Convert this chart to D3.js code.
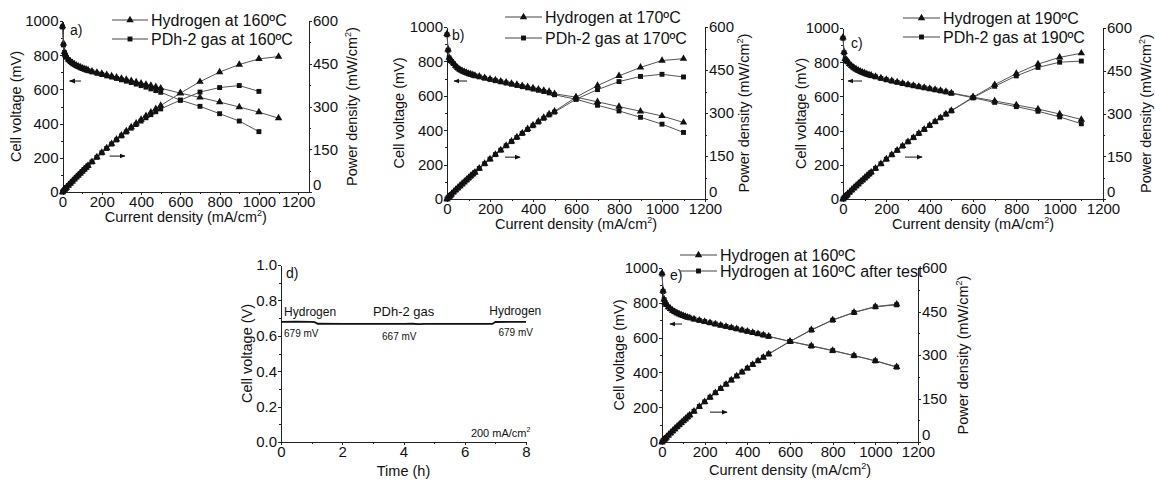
<!DOCTYPE html>
<html>
<head>
<meta charset="utf-8">
<script src="https://cdn.jsdelivr.net/npm/d3@7"></script>
<style>
body { margin: 0; background: #fff; }
svg { display: block; font-family: "Liberation Sans", Arial, sans-serif; }
.axis text { font-size: 15px; fill: #111; }
.axis path, .axis line { stroke: #222; stroke-width: 1; shape-rendering: crispEdges; }
.title { font-size: 14.5px; fill: #111; }
.legend text { font-size: 16px; fill: #111; }
.curve { fill: none; stroke: #555; stroke-width: 1; }
.note { fill: #111; }
</style>
</head>
<body>
<div id="figure"></div>
<script>
// ---------DATA---------
// current density (mA/cm2) of the polarisation points
var currentDensity = [0, 5, 10, 15, 20, 30, 40, 50, 60, 70, 80, 90, 100, 110, 120, 130,
    150, 175, 200, 225, 250, 275, 300, 325, 350, 375, 400, 425, 450, 475, 500,
    600, 700, 800, 900, 1000, 1100];

// --160C-- (PDh-2 stops at 1000 mA/cm2)
var h2At160Voltage = [970, 870, 820, 800, 790, 775, 765, 755, 748, 741, 735, 730, 725, 721, 717, 713,
    706, 699, 692, 685, 678, 671, 664, 657, 650, 643, 636, 629, 622, 615, 607,
    578, 553, 526, 497, 467, 432];
var h2At160Power = [0, 4.4, 8.2, 12.0, 15.8, 23.3, 30.6, 37.8, 44.9, 51.9, 58.8, 65.7, 72.5, 79.3, 86.0, 92.7,
    105.9, 122.3, 138.4, 154.1, 169.5, 184.5, 199.2, 213.5, 227.5, 241.1, 254.4, 267.3, 279.9, 292.1, 303.5,
    346.8, 387.1, 420.8, 447.3, 467.0, 475.2];
var pdhAt160Voltage = [965, 860, 815, 798, 788, 773, 763, 753, 746, 739, 733, 727, 722, 717, 713, 709,
    702, 694, 687, 679, 672, 664, 656, 648, 640, 631, 622, 613, 603, 593, 583,
    537, 501, 458, 415, 353];
var pdhAt160Power = [0, 4.3, 8.2, 12.0, 15.8, 23.2, 30.5, 37.7, 44.8, 51.7, 58.6, 65.4, 72.2, 78.9, 85.6, 92.2,
    105.3, 121.5, 137.4, 152.8, 168.0, 182.6, 196.8, 210.6, 224.0, 236.6, 248.8, 260.5, 271.4, 281.7, 291.5,
    322.2, 350.7, 366.4, 373.5, 353.0];

// --170C--
var h2At170Voltage = [960, 870, 822, 810, 803, 790, 775, 762, 753, 746, 740, 735, 730, 726, 722, 718,
    713, 705, 698, 691, 684, 678, 671, 665, 658, 652, 645, 638, 631, 624, 612,
    592, 565, 537, 510, 483, 445];
var h2At170Power = [0, 4.4, 8.2, 12.2, 16.1, 23.7, 31.0, 38.1, 45.2, 52.2, 59.2, 66.2, 73.0, 79.9, 86.6, 93.3,
    107.0, 123.4, 139.6, 155.5, 171.0, 186.5, 201.3, 216.1, 230.3, 244.5, 258.0, 271.2, 284.0, 296.4, 306.0,
    355.2, 395.5, 429.6, 459.0, 483.0, 489.5];
var pdhAt170Voltage = [955, 865, 820, 808, 800, 787, 772, 760, 751, 744, 738, 733, 728, 724, 720, 716,
    710, 702, 695, 688, 681, 674, 667, 660, 653, 646, 639, 632, 625, 617, 606,
    580, 545, 512, 475, 435, 387];
var pdhAt170Power = [0, 4.3, 8.2, 12.1, 16.0, 23.6, 30.9, 38.0, 45.1, 52.1, 59.0, 66.0, 72.8, 79.6, 86.4, 93.1,
    106.5, 122.9, 139.0, 154.8, 170.3, 185.4, 200.1, 214.5, 228.6, 242.3, 255.6, 268.6, 281.3, 293.1, 303.0,
    348.0, 381.5, 409.6, 427.5, 435.0, 425.7];

// --190C--
var h2At190Voltage = [945, 860, 820, 812, 805, 790, 778, 768, 760, 753, 747, 741, 736, 731, 727, 723,
    716, 707, 699, 691, 684, 677, 670, 664, 658, 652, 646, 640, 634, 628, 620,
    596, 573, 550, 526, 497, 465];
var h2At190Power = [0, 4.3, 8.2, 12.2, 16.1, 23.7, 31.1, 38.4, 45.6, 52.7, 59.8, 66.7, 73.6, 80.4, 87.2, 94.0,
    107.4, 123.7, 139.8, 155.5, 171.0, 186.2, 201.0, 215.8, 230.3, 244.5, 258.4, 272.0, 285.3, 298.3, 310.0,
    357.6, 401.1, 440.0, 473.4, 497.0, 511.5];
var pdhAt190Voltage = [940, 855, 818, 810, 802, 788, 776, 766, 758, 751, 745, 739, 734, 729, 725, 721,
    714, 705, 697, 689, 682, 675, 668, 662, 656, 650, 644, 638, 632, 626, 618,
    592, 565, 540, 513, 480, 440];
var pdhAt190Power = [0, 4.3, 8.2, 12.2, 16.0, 23.6, 31.0, 38.3, 45.5, 52.6, 59.6, 66.5, 73.4, 80.2, 87.0, 93.7,
    107.1, 123.4, 139.4, 155.0, 170.5, 185.6, 200.4, 215.2, 229.6, 243.8, 257.6, 271.2, 284.4, 297.4, 309.0,
    355.2, 395.5, 432.0, 461.7, 480.0, 484.0];

// --160C after the 8 h test--
var afterTestVoltage = [965, 865, 818, 800, 790, 776, 765, 756, 748, 742, 736, 731, 726, 721, 717, 713,
    706, 699, 692, 685, 678, 671, 664, 657, 650, 643, 636, 629, 622, 615, 607,
    578, 551, 525, 496, 466, 430];
var afterTestPower = [0, 4.3, 8.2, 12.0, 15.8, 23.3, 30.6, 37.8, 44.9, 51.9, 58.9, 65.8, 72.6, 79.3, 86.0, 92.7,
    105.9, 122.3, 138.4, 154.1, 169.5, 184.5, 199.2, 213.5, 227.5, 241.1, 254.4, 267.3, 279.9, 292.1, 303.5,
    346.8, 385.7, 420.0, 446.4, 466.0, 473.0];

// --durability run at 200 mA/cm2--
var testTime = [0, 0.5, 1.0, 1.1, 1.2, 2.0, 3.0, 4.0, 4.3, 4.5, 4.7, 5.0, 6.0, 6.9, 7.0, 7.5, 8.0];
var testVoltage = [0.679, 0.680, 0.679, 0.677, 0.668, 0.667, 0.667, 0.667, 0.668, 0.666, 0.667, 0.667,
    0.667, 0.667, 0.678, 0.679, 0.679];

// tick labels
var currentTicks = [0, 200, 400, 600, 800, 1000, 1200];
var voltageTicks = [0, 200, 400, 600, 800, 1000];
var powerTicks = [0, 150, 300, 450, 600];
var timeTicks = [0, 2, 4, 6, 8];
var voltTicks = [0, 0.2, 0.4, 0.6, 0.8, 1.0];


var svg = d3.select("#figure").append("svg").attr("width", 1155).attr("height", 481);

svg.append("defs").append("marker")
    .attr("id", "arrowhead")
    .attr("viewBox", "0 0 10 10")
    .attr("refX", 9).attr("refY", 5)
    .attr("markerWidth", 6).attr("markerHeight", 6)
    .attr("orient", "auto")
    .append("path").attr("d", "M0,1L10,5L0,9z").attr("fill", "#111");

var symbols = {
    tri: d3.symbol().type(d3.symbolTriangle).size(24),
    sq: d3.symbol().type(d3.symbolSquare).size(24)
};
var intFormat = d3.format("d");

function minorOf(ticks) {
    var out = [];
    for (var i = 0; i < ticks.length - 1; i++) out.push((ticks[i] + ticks[i + 1]) / 2);
    return out;
}

function superTitle(sel, before, sup, after) {
    sel.append("tspan").text(before);
    sel.append("tspan").attr("font-size", "9px").attr("dy", "-6").text(sup);
    sel.append("tspan").attr("dy", "6").text(after);
}

// ---------POLARISATION PANEL---------
function polPanel(p) {
    var g = svg.append("g");
    var x = d3.scaleLinear().domain([0, p.xMax]).range([p.left, p.right]);
    var yV = d3.scaleLinear().domain([0, 1000]).range([p.bottom, p.top]);
    var yP = d3.scaleLinear().domain([0, 600]).range([p.bottom, p.top]);

    // --axes--
    g.append("g").attr("class", "axis").attr("transform", "translate(0," + p.bottom + ")")
        .call(d3.axisBottom(x).tickValues(currentTicks).tickFormat(intFormat).tickSize(3).tickPadding(1).tickSizeOuter(0));
    g.append("g").attr("class", "axis").attr("transform", "translate(0," + p.bottom + ")")
        .call(d3.axisBottom(x).tickValues(minorOf(currentTicks)).tickSize(2).tickFormat("").tickSizeOuter(0));
    g.append("g").attr("class", "axis").attr("transform", "translate(" + p.left + ",0)")
        .call(d3.axisLeft(yV).tickValues(voltageTicks).tickFormat(intFormat).tickSize(3).tickPadding(1).tickSizeOuter(0));
    g.append("g").attr("class", "axis").attr("transform", "translate(" + p.left + ",0)")
        .call(d3.axisLeft(yV).tickValues(minorOf(voltageTicks)).tickSize(2).tickFormat("").tickSizeOuter(0));
    var rightAxis = g.append("g").attr("class", "axis").attr("transform", "translate(" + p.right + ",0)")
        .call(d3.axisRight(yP).tickValues(powerTicks).tickFormat(intFormat).tickSize(3).tickPadding(1).tickSizeOuter(0));
    // corner "0" sits a little higher so it clears the 1200 label
    rightAxis.selectAll("text").filter(function(d) { return d === 0; }).attr("dy", "-0.18em");
    g.append("g").attr("class", "axis").attr("transform", "translate(" + p.right + ",0)")
        .call(d3.axisRight(yP).tickValues(minorOf(powerTicks)).tickSize(2).tickFormat("").tickSizeOuter(0));

    // --titles--
    g.append("text").attr("class", "title")
        .attr("x", (p.left + p.right) / 2).attr("y", p.xTitleY)
        .attr("text-anchor", "middle")
        .call(superTitle, "Current density (mA/cm", "2", ")");
    g.append("text").attr("class", "title")
        .attr("transform", "translate(" + p.leftTitleX + "," + (p.top + p.bottom) / 2 + ") rotate(-90)")
        .attr("text-anchor", "middle").attr("dy", "0.35em")
        .text("Cell voltage (mV)");
    g.append("text").attr("class", "title")
        .attr("transform", "translate(" + p.rightTitleX + "," + (p.top + p.bottom) / 2 + ") rotate(-90)")
        .attr("text-anchor", "middle").attr("dy", "0.35em")
        .call(superTitle, "Power density (mW/cm", "2", ")");

    // --curves--
    function drawSeries(s, values, yScale) {
        var pts = values.map(function(v, i) { return [currentDensity[i], v]; });
        g.append("path").attr("class", "curve")
            .attr("d", d3.line().x(function(d) { return x(d[0]); }).y(function(d) { return yScale(d[1]); })(pts));
        g.selectAll(null).data(pts).enter().append("path")
            .attr("d", symbols[s.sym])
            .attr("fill", "#111")
            .attr("transform", function(d) {
                return "translate(" + x(d[0]) + "," + yScale(d[1]) + ")";
            });
    }
    p.voltageOrder.forEach(function(k) { drawSeries(p.series[k], p.series[k].voltage, yV); });
    p.powerOrder.forEach(function(k) { drawSeries(p.series[k], p.series[k].power, yP); });

    // --arrows--
    g.append("line")
        .attr("x1", x(p.leftArrow[1])).attr("x2", x(p.leftArrow[0]))
        .attr("y1", yV(p.leftArrow[2])).attr("y2", yV(p.leftArrow[2]))
        .attr("stroke", "#111").attr("marker-end", "url(#arrowhead)");
    g.append("line")
        .attr("x1", x(p.rightArrow[0])).attr("x2", x(p.rightArrow[1]))
        .attr("y1", yP(p.rightArrow[2])).attr("y2", yP(p.rightArrow[2]))
        .attr("stroke", "#111").attr("marker-end", "url(#arrowhead)");

    // --panel letter--
    g.append("text").attr("x", p.tag[0]).attr("y", p.tag[1])
        .attr("font-size", "14px").attr("fill", "#111").text(p.tag[2]);

    // --legend--
    var lg = g.append("g").attr("class", "legend");
    p.series.forEach(function(s, i) {
        var y = p.legend.rows[i];
        lg.append("line").attr("x1", p.legend.x1).attr("x2", p.legend.x2)
            .attr("y1", y).attr("y2", y).attr("stroke", "#444");
        lg.append("path").attr("d", symbols[s.sym]).attr("fill", "#111")
            .attr("transform", "translate(" + (p.legend.x1 + p.legend.x2) / 2 + "," + y + ")");
        lg.append("text").attr("x", p.legend.x2 + 3).attr("y", y).attr("dy", "0.35em")
            .attr("font-size", p.legend.size + "px").text(s.name);
    });
}

// ---------TIME PANEL---------
function timePanel(p) {
    var g = svg.append("g");
    var x = d3.scaleLinear().domain([0, 8]).range([p.left, p.right]);
    var y = d3.scaleLinear().domain([0, 1]).range([p.bottom, p.top]);

    g.append("g").attr("class", "axis").attr("transform", "translate(0," + p.bottom + ")")
        .call(d3.axisBottom(x).tickValues(timeTicks).tickFormat(intFormat).tickSize(3).tickPadding(1).tickSizeOuter(0));
    g.append("g").attr("class", "axis").attr("transform", "translate(0," + p.bottom + ")")
        .call(d3.axisBottom(x).tickValues(minorOf(timeTicks)).tickSize(2).tickFormat("").tickSizeOuter(0));
    g.append("g").attr("class", "axis").attr("transform", "translate(" + p.left + ",0)")
        .call(d3.axisLeft(y).tickValues(voltTicks).tickSize(3).tickPadding(1).tickFormat(d3.format(".1f")).tickSizeOuter(0));
    g.append("g").attr("class", "axis").attr("transform", "translate(" + p.left + ",0)")
        .call(d3.axisLeft(y).tickValues(minorOf(voltTicks)).tickSize(2).tickFormat("").tickSizeOuter(0));

    g.append("text").attr("class", "title")
        .attr("x", (p.left + p.right) / 2).attr("y", p.xTitleY)
        .attr("text-anchor", "middle").text("Time (h)");
    g.append("text").attr("class", "title")
        .attr("transform", "translate(" + p.leftTitleX + "," + (p.top + p.bottom) / 2 + ") rotate(-90)")
        .attr("text-anchor", "middle").attr("dy", "0.35em")
        .text("Cell voltage (V)");

    var pts = testTime.map(function(t, i) { return [t, testVoltage[i]]; });
    g.append("path").attr("fill", "none").attr("stroke", "#111").attr("stroke-width", 1.8)
        .attr("d", d3.line().x(function(d) { return x(d[0]); }).y(function(d) { return y(d[1]); })(pts));

    p.notes.forEach(function(n) {
        var t = g.append("text").attr("class", "note")
            .attr("x", x(n[0])).attr("y", y(n[1]))
            .attr("font-size", n[3] + "px");
        if (n[2] === "200 mA/cm") {
            t.append("tspan").text(n[2]);
            t.append("tspan").attr("font-size", "7px").attr("dy", "-5").text("2");
        } else {
            t.text(n[2]);
        }
    });

    g.append("text").attr("x", p.tag[0]).attr("y", p.tag[1])
        .attr("font-size", "14px").attr("fill", "#111").text(p.tag[2]);
}


polPanel({
    left: 62.5, right: 309, top: 21, bottom: 192, xMax: 1255,
    xTitleY: 222, leftTitleX: 16, rightTitleX: 352,
    series: [
        {name: "Hydrogen at 160ºC", sym: "tri", voltage: h2At160Voltage, power: h2At160Power},
        {name: "PDh-2 gas at 160ºC", sym: "sq", voltage: pdhAt160Voltage, power: pdhAt160Power}
    ],
    voltageOrder: [0, 1], powerOrder: [0, 1],
    leftArrow: [36, 94, 649], rightArrow: [240, 318, 126],
    tag: [70, 35, "a)"],
    legend: {x1: 112, x2: 148, rows: [20, 39], size: 16}
});

polPanel({
    left: 447, right: 705, top: 27, bottom: 199, xMax: 1200,
    xTitleY: 229, leftTitleX: 399, rightTitleX: 744,
    series: [
        {name: "Hydrogen at 170ºC", sym: "tri", voltage: h2At170Voltage, power: h2At170Power},
        {name: "PDh-2 gas at 170ºC", sym: "sq", voltage: pdhAt170Voltage, power: pdhAt170Power}
    ],
    voltageOrder: [0, 1], powerOrder: [0, 1],
    leftArrow: [33, 93, 686], rightArrow: [270, 340, 146],
    tag: [452, 40, "b)"],
    legend: {x1: 505, x2: 542, rows: [17, 38], size: 16}
});

polPanel({
    left: 843, right: 1103, top: 28, bottom: 199, xMax: 1200,
    xTitleY: 229, leftTitleX: 801, rightTitleX: 1146,
    series: [
        {name: "Hydrogen at 190ºC", sym: "tri", voltage: h2At190Voltage, power: h2At190Power},
        {name: "PDh-2 gas at 190ºC", sym: "sq", voltage: pdhAt190Voltage, power: pdhAt190Power}
    ],
    voltageOrder: [0, 1], powerOrder: [0, 1],
    leftArrow: [23, 88, 690], rightArrow: [286, 365, 147],
    tag: [851, 48, "c)"],
    legend: {x1: 903, x2: 940, rows: [18, 37], size: 16}
});

timePanel({
    left: 281, right: 526, top: 265, bottom: 442,
    xTitleY: 476, leftTitleX: 247,
    tag: [286, 278, "d)"],
    notes: [
        [0.1, 0.712, "Hydrogen", 12],
        [3.0, 0.712, "PDh-2 gas", 13],
        [6.8, 0.718, "Hydrogen", 12],
        [0.1, 0.593, "679 mV", 10],
        [3.3, 0.576, "667 mV", 10],
        [7.1, 0.599, "679 mV", 10],
        [6.2, 0.028, "200 mA/cm", 11]
    ]
});

polPanel({
    left: 662, right: 918, top: 268, bottom: 442, xMax: 1200,
    xTitleY: 475, leftTitleX: 619, rightTitleX: 963,
    series: [
        {name: "Hydrogen at 160ºC", sym: "tri", voltage: h2At160Voltage, power: h2At160Power},
        {name: "Hydrogen at 160ºC after test", sym: "sq", voltage: afterTestVoltage, power: afterTestPower}
    ],
    voltageOrder: [1, 0], powerOrder: [0, 1],
    leftArrow: [37, 94, 678], rightArrow: [225, 305, 103],
    tag: [670, 280, "e)"],
    legend: {x1: 680, x2: 717, rows: [255, 271], size: 15.5}
});
</script>
</body>
</html>
